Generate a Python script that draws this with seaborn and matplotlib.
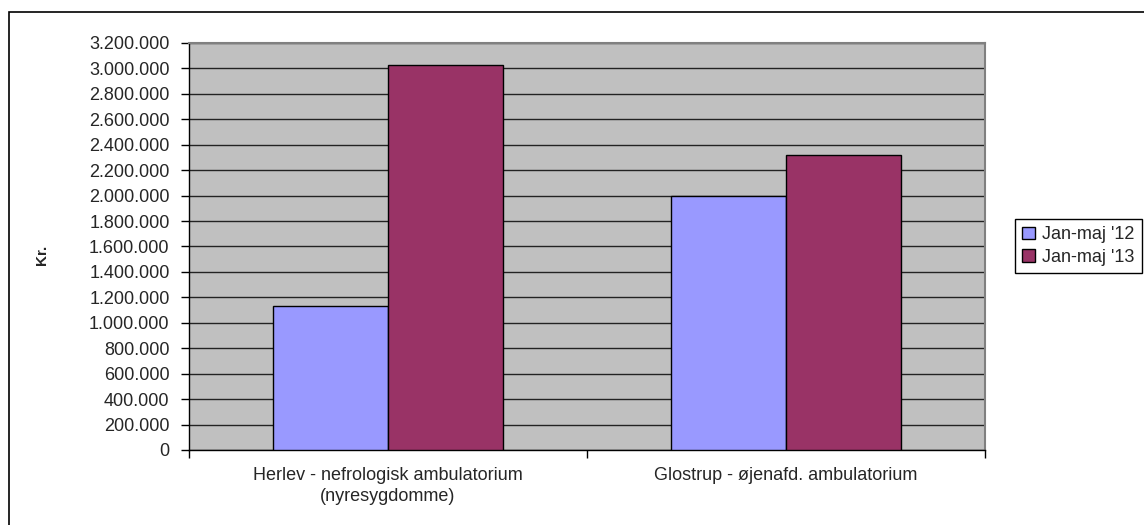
import pandas as pd
import numpy as np
import seaborn as sns
import matplotlib.pyplot as plt
from matplotlib.ticker import FuncFormatter, FixedLocator
from matplotlib.patches import Rectangle

# values
categories = ['Herlev - nefrologisk ambulatorium\n(nyresygdomme)', 'Glostrup - øjenafd. ambulatorium']
periods = ["Jan-maj '12", "Jan-maj '13"]
values_12 = [1130000, 2000000]
values_13 = [3025000, 2320000]
bar_colors = ['#9999FF', '#993366']

df = pd.DataFrame({
    'Afdeling': categories * 2,
    'Periode': [periods[0]] * 2 + [periods[1]] * 2,
    'Kr': values_12 + values_13,
})

sns.set_style('white')
plt.rcParams['font.family'] = ['Liberation Sans', 'DejaVu Sans']

fig = plt.figure(figsize=(11.44, 5.25), dpi=100)
# outer chart border (right and bottom fall outside the picture)
fig.patches.append(Rectangle((9 / 1144, -0.05), 1.2, 1 - 12 / 525 + 0.05, transform=fig.transFigure,
                             fill=False, edgecolor='black', linewidth=1.2))
ax = fig.add_axes([189 / 1144, 1 - 450 / 525, (985 - 189) / 1144, (450 - 43) / 525])

sns.barplot(data=df, x='Afdeling', y='Kr', hue='Periode', palette=bar_colors, width=0.58, gap=0,
            edgecolor='black', linewidth=1, saturation=1, ax=ax, zorder=3)

ax.set_facecolor('#C0C0C0')
ax.set_ylim(0, 3200000)
ax.set_xlim(-0.5, 1.5)
ax.set_yticks(np.arange(0, 3200001, 200000))
ax.yaxis.set_major_formatter(FuncFormatter(lambda v, p: f'{int(v):,}'.replace(',', '.')))
ax.grid(axis='y', color='#222222', linewidth=1, zorder=0)
ax.set_axisbelow(True)
ax.tick_params(axis='y', length=6, width=1, color='black', labelsize=13, pad=8, left=True)
ax.tick_params(axis='x', which='major', length=0, labelsize=13, pad=12)
for lbl in ax.get_xticklabels():
    lbl.set_linespacing(1.3)
ax.xaxis.set_minor_locator(FixedLocator([-0.5, 0.5, 1.5]))
ax.tick_params(axis='x', which='minor', length=6, width=1, color='black', bottom=True)

for side in ['left', 'bottom']:
    ax.spines[side].set_color('black')
    ax.spines[side].set_linewidth(1)
for side in ['top', 'right']:
    ax.spines[side].set_color('#808080')
    ax.spines[side].set_linewidth(1.5)

ax.set_xlabel('')
ax.set_ylabel('Kr.', fontsize=11, fontweight='bold')
ax.yaxis.set_label_coords(-0.176, 0.48)

leg = ax.legend(loc='center left', bbox_to_anchor=(1015 / 1144, 1 - 246 / 525), bbox_transform=fig.transFigure,
                frameon=True, fancybox=False, framealpha=1, edgecolor='black', fontsize=13,
                handlelength=0.7, handleheight=0.7, handletextpad=0.4,
                labelspacing=0.3, borderaxespad=0, borderpad=0.4)
leg.get_frame().set_linewidth(1)

plt.savefig('out.png', dpi=100)
